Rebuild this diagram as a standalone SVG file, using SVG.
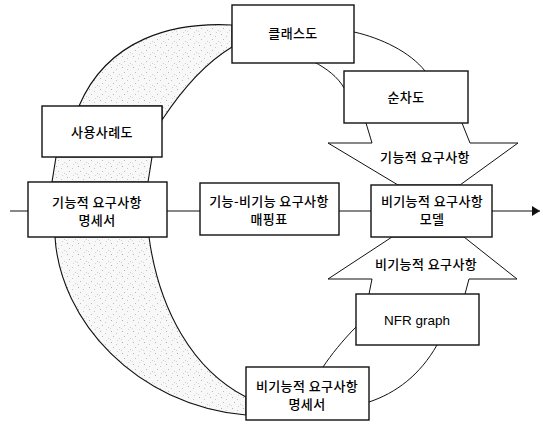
<svg xmlns="http://www.w3.org/2000/svg" width="543" height="425" viewBox="0 0 543 425">
  <style>
    .box { fill: #fff; stroke: #111; stroke-width: 1.4; }
    .ln { fill: none; stroke: #111; stroke-width: 1; }
    .band { fill: url(#stipple); stroke: #111; stroke-width: 1.1; }
    .arrow { fill: #fff; stroke: #111; stroke-width: 1; stroke-linejoin: miter; }
    .kr { font-family: "Noto Sans CJK KR", "Noto Sans", sans-serif; font-size: 13px; font-weight: 500; fill: #000; text-anchor: middle; letter-spacing: 0.4px; }
    .en { font-family: "Liberation Sans", Arial, sans-serif; font-size: 13.5px; fill: #000; text-anchor: middle; }
  </style>
  <defs>
    <!-- light speckle fill for the band -->
    <pattern id="stipple" width="11" height="11" patternUnits="userSpaceOnUse">
      <rect width="11" height="11" fill="#f8f8f8"/>
      <rect x="1" y="1" width="1" height="1" fill="#b0b0b0"/>
      <rect x="6" y="3" width="1" height="1" fill="#c6c6c6"/>
      <rect x="3" y="6" width="1" height="1" fill="#bbbbbb"/>
      <rect x="9" y="8" width="1" height="1" fill="#cccccc"/>
      <rect x="7" y="10" width="1" height="1" fill="#d2d2d2"/>
      <rect x="0" y="9" width="1" height="1" fill="#d6d6d6"/>
    </pattern>
    <marker id="head" markerWidth="9" markerHeight="10" refX="8" refY="5" orient="auto" markerUnits="userSpaceOnUse">
      <path d="M0,0 L8,5 L0,10 Z" fill="#111"/>
    </marker>
  </defs>

  <!-- cycle: shaded band on the left, thin curves on the right -->
  <g id="connectors">
    <path class="band" d="M232,25 C174,22 108,38 79,106 L162,106 L162,120 C183,88 207,62 232,47 Z"/>
    <path class="band" d="M56,157 L52,182 L148,182 L152,157 Z"/>
    <path class="band" d="M55,237 C60,320 135,405 246,415 L246,397 C193,370 159,310 149,237 Z"/>

    <path class="ln" d="M354,32 C381,38 410,52 425,71"/>
    <path class="ln" d="M314,62 C326,68 338,77 344,88"/>
    <path class="ln" d="M356,327 C343,340 331,355 323,367"/>
    <path class="ln" d="M437,345 C420,375 396,393 369,402"/>

    <!-- main flow line -->
    <path class="ln" d="M10,211 L28,211"/>
    <path class="ln" d="M167,211 L200,211"/>
    <path class="ln" d="M339,211 L371,211"/>
    <path class="ln" d="M492,211 L540,211" marker-end="url(#head)"/>

    <!-- block arrows into the model -->
    <path class="arrow" d="M366,123 L372,143 L328,143 L398,185 L460,185 L518,143 L470,143 L462,123"/>
    <path class="arrow" d="M369,294 L372,279 L328,279 L392,237 L464,237 L517,279 L469,279 L465,294"/>
  </g>

  <text class="kr" x="425" y="162">기능적 요구사항</text>
  <text class="kr" x="426" y="269">비기능적 요구사항</text>

  <g id="class-diagram">
    <rect class="box" x="232" y="5" width="122" height="58"/>
    <text class="kr" x="293" y="38">클래스도</text>
  </g>

  <g id="sequence-diagram">
    <rect class="box" x="344" y="71" width="124" height="52"/>
    <text class="kr" x="406" y="102">순차도</text>
  </g>

  <g id="usecase-diagram">
    <rect class="box" x="42" y="106" width="120" height="51"/>
    <text class="kr" x="102" y="137">사용사례도</text>
  </g>

  <g id="fr-spec">
    <rect class="box" x="28" y="182" width="139" height="55"/>
    <text class="kr" x="97" y="207">기능적 요구사항</text>
    <text class="kr" x="97" y="225">명세서</text>
  </g>

  <g id="mapping-table">
    <rect class="box" x="200" y="183" width="139" height="52"/>
    <text class="kr" x="269" y="206">기능-비기능 요구사항</text>
    <text class="kr" x="269" y="224">매핑표</text>
  </g>

  <g id="nfr-model">
    <rect class="box" x="371" y="185" width="121" height="52"/>
    <text class="kr" x="432" y="206">비기능적 요구사항</text>
    <text class="kr" x="432" y="224">모델</text>
  </g>

  <g id="nfr-graph">
    <rect class="box" x="356" y="294" width="123" height="51"/>
    <text class="en" x="417" y="325">NFR graph</text>
  </g>

  <g id="nfr-spec">
    <rect class="box" x="246" y="367" width="123" height="53"/>
    <text class="kr" x="307" y="391">비기능적 요구사항</text>
    <text class="kr" x="307" y="409">명세서</text>
  </g>
</svg>
